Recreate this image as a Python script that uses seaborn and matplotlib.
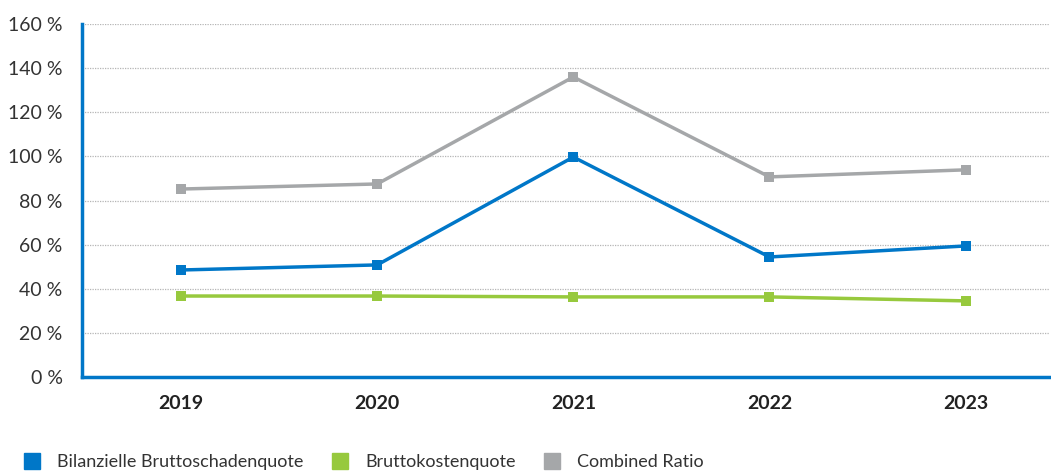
import pandas as pd
import matplotlib.pyplot as plt
import seaborn as sns
from matplotlib.lines import Line2D

# values (in %)
years = ['2019', '2020', '2021', '2022', '2023']
schadenquote = [48.5, 50.8, 99.7, 54.4, 59.4]
kostenquote = [36.7, 36.7, 36.3, 36.3, 34.5]
combined_ratio = [85.2, 87.5, 136.0, 90.7, 93.9]

series_names = ['Bilanzielle Bruttoschadenquote', 'Bruttokostenquote', 'Combined Ratio']
colors = ['#0077C8', '#97C93D', '#A5A7A9']

df = pd.DataFrame({
    'Jahr': years * 3,
    'Wert': schadenquote + kostenquote + combined_ratio,
    'Serie': [s for s in series_names for _ in years],
})

sns.set_style('white')
plt.rcParams['font.family'] = ['Lato', 'DejaVu Sans']

fig = plt.figure(figsize=(10.51, 4.71), dpi=100)
ax = fig.add_axes([0.078, 0.1996, 0.921, 0.7494])

sns.lineplot(data=df, x='Jahr', y='Wert', hue='Serie', palette=dict(zip(series_names, colors)),
             marker='s', markersize=7, markeredgewidth=0, linewidth=2.5, ax=ax, legend=False, sort=False)

ax.set_ylim(0, 160)
ax.set_xlim(-0.505, 4.43)
ax.set_yticks(range(0, 161, 20))
ax.set_yticklabels([f'{v} %' for v in range(0, 161, 20)], fontsize=14, color='#333333')
ax.set_xticks(range(len(years)))
ax.set_xticklabels(years, fontsize=14, fontweight='bold', color='#222222')
ax.tick_params(axis='both', length=0)
ax.tick_params(axis='y', pad=14)
ax.tick_params(axis='x', pad=13)
ax.set_xlabel('')
ax.set_ylabel('')

for v in range(20, 161, 20):
    ax.axhline(v, color='#b5b5b5', linestyle=(0, (1, 1)), linewidth=0.9, zorder=0)

for side in ['top', 'right']:
    ax.spines[side].set_visible(False)
for side in ['left', 'bottom']:
    ax.spines[side].set_color('#0077C8')
    ax.spines[side].set_linewidth(2.5)

handles = [Line2D([], [], marker='s', linestyle='none', markersize=11, color=c) for c in colors]
fig.legend(handles, series_names, loc='lower left', bbox_to_anchor=(0.008, -0.033), ncol=3,
           frameon=False, fontsize=13, handlelength=0.8, handletextpad=1.0, columnspacing=1.6,
           labelcolor='#333333')

fig.savefig('out.png', dpi=100)
